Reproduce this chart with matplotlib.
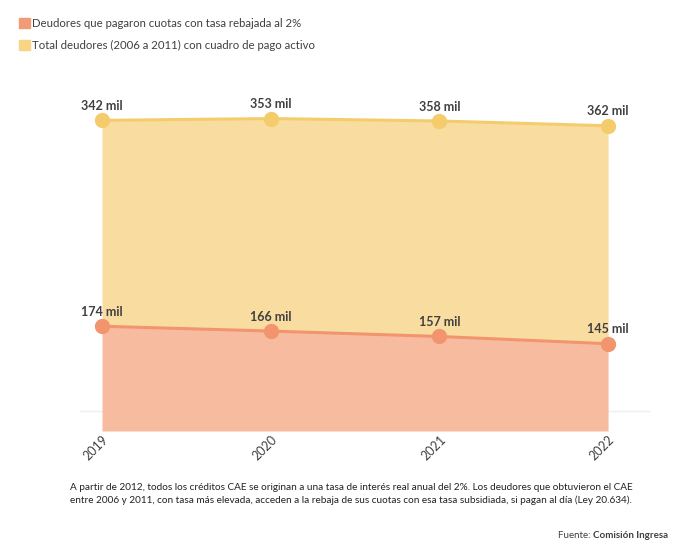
import matplotlib
matplotlib.use("Agg")
import matplotlib.pyplot as plt
import matplotlib.patches as mpatches

plt.rcParams["font.family"] = ["Lato", "DejaVu Sans"]

# ---------------------------------------------------------------------------
# Data (thousands of debtors)
# ---------------------------------------------------------------------------
YEARS = [2019, 2020, 2021, 2022]
REBAJADA = [174, 166, 157, 145]      # paid with 2% rate
TOTAL = [342, 353, 358, 362]         # total debtors 2006-2011 (stacked on top)
TICK_LABELS = ["2019", "2020", "2021", "2022"]

C_LOW_FILL = "#F7BCA0"
C_LOW_LINE = "#F2956F"
C_TOP_FILL = "#F9DDA0"
C_TOP_LINE = "#F5CC6C"
C_TEXT = "#404040"

stacked_top = [a + b for a, b in zip(REBAJADA, TOTAL)]

fig = plt.figure(figsize=(6.88, 5.48), dpi=100)
W, H = 688, 548
# axes in pixel terms: x 80..650, y 60..431
ax = fig.add_axes([80 / W, 1 - 431 / H, 570 / W, 371 / H])
ax.set_xlim(2019 - 22 / 168.7, 2019 + 548 / 168.7)
ax.set_ylim(0, 371 / 0.602)

ax.fill_between(YEARS, 0, REBAJADA, color=C_LOW_FILL, lw=0, zorder=2)
ax.fill_between(YEARS, REBAJADA, stacked_top, color=C_TOP_FILL, lw=0, zorder=2)
ax.axhline(33, color="#EFEFEF", lw=1, zorder=1)

ax.plot(YEARS, REBAJADA, color=C_LOW_LINE, lw=2.2, marker="o", ms=10,
        mfc=C_LOW_LINE, mec=C_LOW_LINE, zorder=3)
ax.plot(YEARS, stacked_top, color=C_TOP_LINE, lw=2.2, marker="o", ms=10,
        mfc=C_TOP_LINE, mec=C_TOP_LINE, zorder=3)

for x, v, s in zip(YEARS, REBAJADA, REBAJADA):
    ax.annotate(f"{s} mil", (x, v), xytext=(0, 6), textcoords="offset points",
                ha="center", va="bottom", fontsize=9, fontweight="bold", color=C_TEXT)
for x, v, s in zip(YEARS, stacked_top, TOTAL):
    ax.annotate(f"{s} mil", (x, v), xytext=(0, 6), textcoords="offset points",
                ha="center", va="bottom", fontsize=9, fontweight="bold", color=C_TEXT)

ax.set_xticks(YEARS)
ax.set_xticklabels(TICK_LABELS, rotation=45, ha="right", va="top",
                   rotation_mode="anchor", fontsize=9, color=C_TEXT)
ax.tick_params(axis="x", length=0, pad=2)
ax.set_yticks([])
for sp in ax.spines.values():
    sp.set_visible(False)

# legend
handles = [
    mpatches.Patch(color="#F29B76", label="Deudores que pagaron cuotas con tasa rebajada al 2%"),
    mpatches.Patch(color="#F9D483", label="Total deudores (2006 a 2011) con cuadro de pago activo"),
]
fig.legend(handles=handles, loc="upper left", bbox_to_anchor=(19 / W, 1 - 18 / H),
           frameon=False, fontsize=8.2, handlelength=0.95, handleheight=0.95,
           handletextpad=0.2, labelspacing=0.95, borderaxespad=0, borderpad=0,
           labelcolor=C_TEXT)

fig.text(70 / W, 1 - 494 / H,
         "A partir de 2012, todos los créditos CAE se originan a una tasa de interés real anual del 2%. "
         "Los deudores que obtuvieron el CAE\n"
         "entre 2006 y 2011, con tasa más elevada, acceden a la rebaja de sus cuotas con esa tasa "
         "subsidiada, si pagan al día (Ley 20.634).",
         fontsize=7.2, color="#222222", va="center", linespacing=1.4)

src = fig.text(668 / W, 1 - 535 / H, "Comisión Ingresa", fontsize=7, fontweight="bold",
               color=C_TEXT, ha="right", va="center")
fig.canvas.draw()
bb = src.get_window_extent()
fig.text(bb.x0 / W, 1 - 535 / H, "Fuente: ", fontsize=7, color=C_TEXT,
         ha="right", va="center")

fig.savefig("out.png", dpi=100)
